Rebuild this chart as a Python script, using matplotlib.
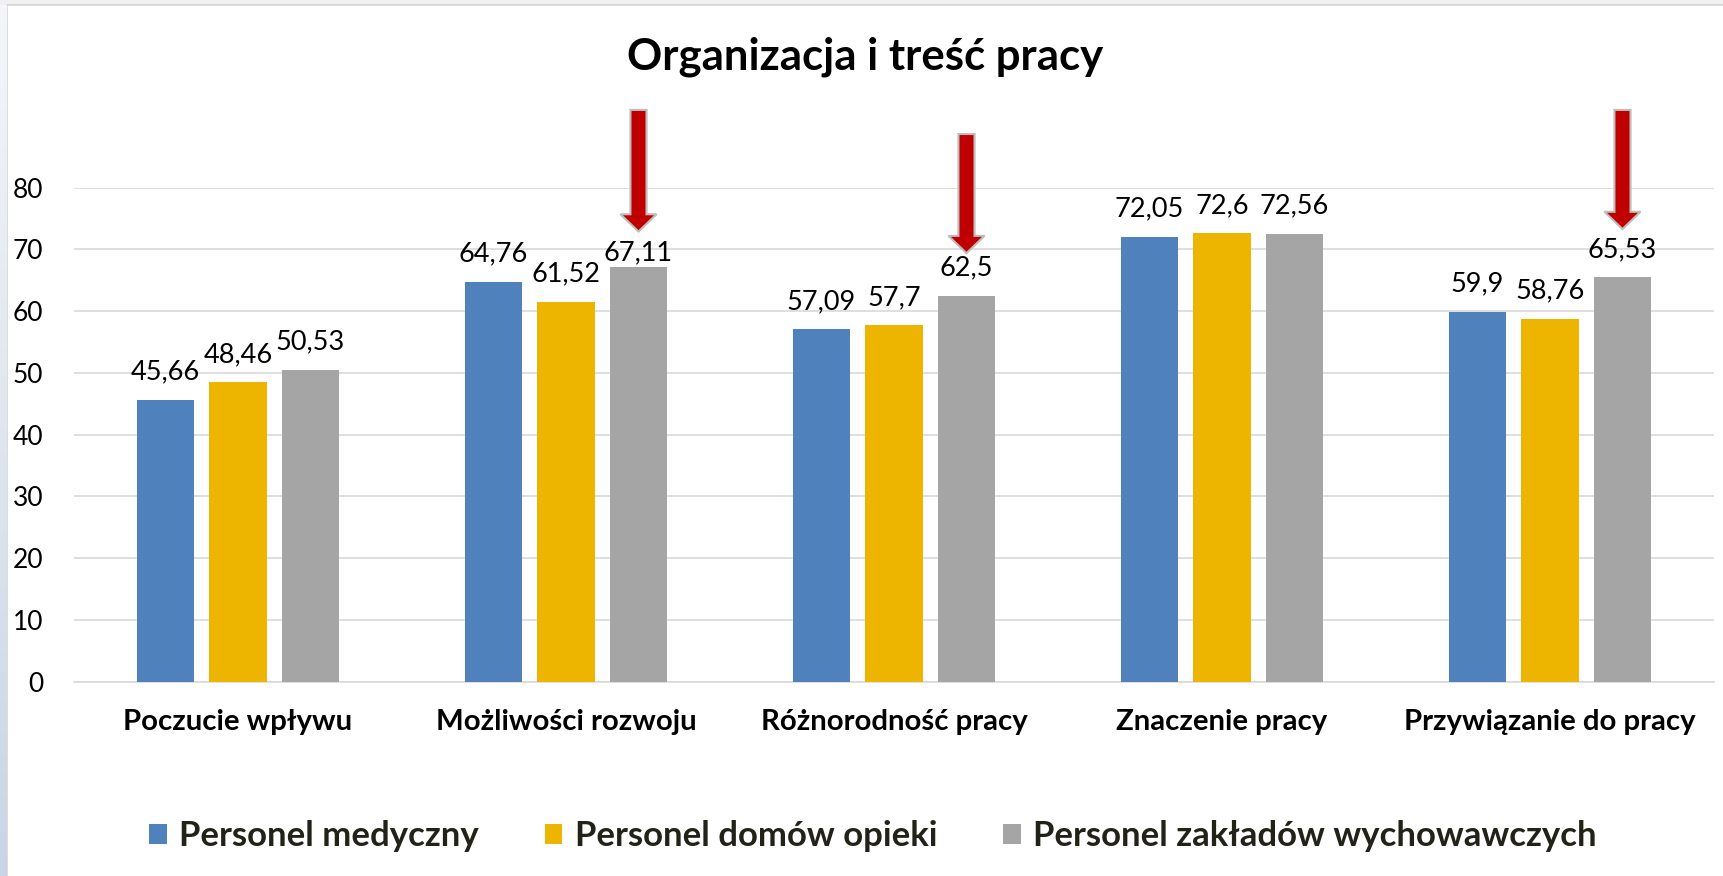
import numpy as np
import matplotlib
matplotlib.use("Agg")
import matplotlib.pyplot as plt
from matplotlib.patches import FancyArrow, Rectangle
from matplotlib.colors import LinearSegmentedColormap

categories = ["Poczucie wpływu", "Możliwości rozwoju", "Różnorodność pracy",
              "Znaczenie pracy", "Przywiązanie do pracy"]
series_names = ["Personel medyczny", "Personel domów opieki",
                "Personel zakładów wychowawczych"]
medyczny = [45.66, 64.76, 57.09, 72.05, 59.90]
domy_opieki = [48.46, 61.52, 57.70, 72.60, 58.76]
zaklady = [50.53, 67.11, 62.50, 72.56, 65.53]
label_texts = [["45,66", "64,76", "57,09", "72,05", "59,9"],
               ["48,46", "61,52", "57,7", "72,6", "58,76"],
               ["50,53", "67,11", "62,5", "72,56", "65,53"]]
yticks = [0, 10, 20, 30, 40, 50, 60, 70, 80]
# highlight arrows (category index, tip value, top value) on the third series
arrow_cats = [1, 2, 4]
arrow_tips = [72.9, 69.4, 73.3]
arrow_tops = [92.6, 88.7, 92.6]

colors = ["#4F81BD", "#EEB500", "#A5A5A5"]
FONT = "Lato"

W, H = 1723, 876
fig = plt.figure(figsize=(W / 100, H / 100), dpi=100)
fig.patch.set_facecolor("#F0F0F0")

# white panel with light border
fig.patches.append(Rectangle((7.5 / W, -0.01), 1, 1 - 5 / H + 0.01, transform=fig.transFigure,
                             facecolor="white", edgecolor="#D5D5D5", linewidth=1.2, zorder=-5))
# left gradient strip
grad = np.linspace(0, 1, 256).reshape(-1, 1)
cm = LinearSegmentedColormap.from_list("g", ["#F4F6F9", "#C9D5E5"])
gax = fig.add_axes([0, 0, 7 / W, 1 - 5 / H], zorder=-4)
gax.imshow(grad, aspect="auto", cmap=cm)
gax.axis("off")

ax = fig.add_axes([74 / W, (H - 681.5) / H, (1714 - 74) / W, (681.5 - 187.7) / H], zorder=1)
ax.set_facecolor("none")

x = np.arange(len(categories))
bw = 0.174
off = 0.221
data = [medyczny, domy_opieki, zaklady]
for i, (vals, c, name) in enumerate(zip(data, colors, series_names)):
    xs = x + (i - 1) * off
    ax.bar(xs, vals, width=bw, color=c, label=name, zorder=3)
    for j, (xx, v) in enumerate(zip(xs, vals)):
        dy = 14.4
        if i == 2 and j == 1:
            dy = 5.0
        ax.annotate(label_texts[i][j], (xx, v), xytext=(0, dy), textcoords="offset points",
                    ha="center", va="baseline", fontsize=19.5, family=FONT, color="black")

for cidx, tip, top in zip(arrow_cats, arrow_tips, arrow_tops):
    xa = x[cidx] + off
    ax.add_patch(FancyArrow(xa, top, 0, tip - top, width=0.049, head_width=0.11,
                            head_length=2.8, length_includes_head=True,
                            facecolor="#C00000", edgecolor="#BDBDBD", linewidth=1.5,
                            clip_on=False, zorder=5))

ax.set_xlim(-0.5, len(categories) - 0.5)
ax.set_ylim(0, 80)
ax.set_yticks(yticks)
ax.set_yticklabels([str(t) for t in yticks], family=FONT, fontsize=19)
ax.set_xticks(x)
ax.set_xticklabels(categories, family=FONT, fontsize=21.2, fontweight="bold")
ax.tick_params(axis="y", length=0, pad=22)
ax.tick_params(axis="x", length=0, pad=20)
ax.grid(axis="y", color="#D9D9D9", linewidth=1.2, zorder=0)
for s in ["top", "right", "left"]:
    ax.spines[s].set_visible(False)
ax.spines["bottom"].set_color("#D9D9D9")
ax.spines["bottom"].set_linewidth(1.2)

fig.text(865 / W, 1 - 57 / H, "Organizacja i treść pracy", ha="center", va="center",
         family=FONT, fontsize=31.5, fontweight="bold", color="black")

leg = fig.legend(loc="center", bbox_to_anchor=(873 / W, 1 - 836 / H), ncol=3, frameon=False,
                 prop={"family": FONT, "size": 25, "weight": "bold"},
                 handlelength=0.5, handleheight=0.5, handletextpad=0.36, columnspacing=1.9,
                 labelcolor="#222219")

fig.savefig("out.png", dpi=100, facecolor=fig.get_facecolor())
